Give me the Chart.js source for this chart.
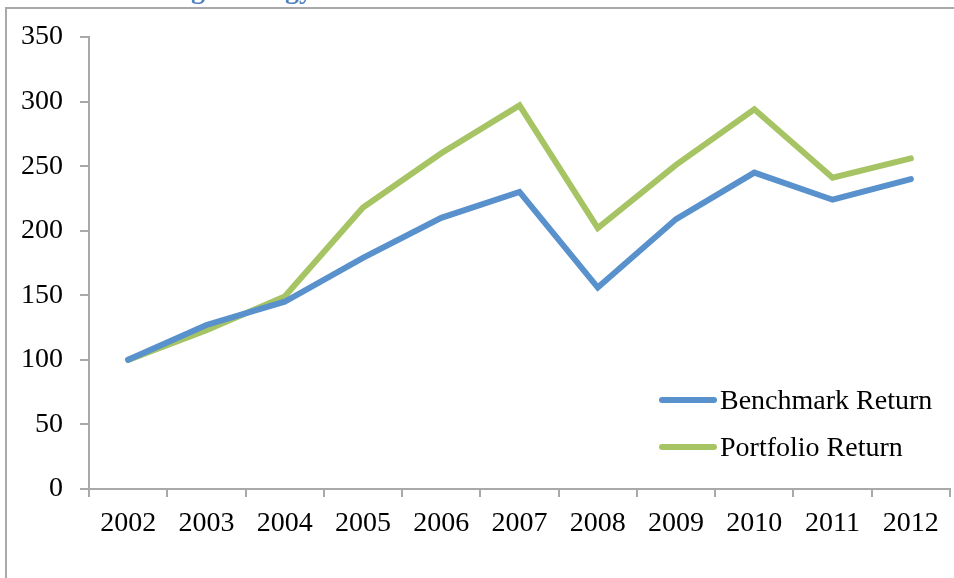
<!DOCTYPE html>
<html>
<head>
<meta charset="utf-8">
<script src="https://cdn.jsdelivr.net/npm/chart.js@4/dist/chart.umd.min.js"></script>
<style>
  html, body { margin: 0; padding: 0; background: #fff; overflow: hidden; }
  #wrap { position: relative; width: 954px; height: 578px; }
  #frame { position: absolute; left: 5px; top: 7px; width: 1200px; height: 1000px;
           border-left: 2px solid #a9a9a9; border-top: 2px solid #a9a9a9; box-sizing: border-box; }
  canvas { position: absolute; left: 0; top: 0; }
</style>
</head>
<body>
<div id="wrap">
  <div id="frame"></div>
  <canvas id="c" width="954" height="578"></canvas>
</div>
<script>
const titleText = "Trading Strategy";
const years = ["2002","2003","2004","2005","2006","2007","2008","2009","2010","2011","2012"];
const benchmarkReturn = [100, 127, 145, 179, 210, 230, 156, 209, 245, 224, 240];
const portfolioReturn = [100, 123, 149, 218, 260, 297, 202, 251, 294, 241, 256];
const seriesNames = ["Benchmark Return", "Portfolio Return"];
const seriesColors = ["#5891cc", "#a6c463"];

const FONT = "'Liberation Serif', 'Times New Roman', serif";
const AXIS = "#a9a9a9";

const overlay = {
  id: 'overlay',
  afterDraw(chart) {
    const ctx = chart.ctx;
    ctx.save();
    // cut-off title (only the lowest part shows above the frame)
    ctx.font = "bold 28px " + FONT;
    ctx.fillStyle = "#4f81bd";
    ctx.textAlign = "right";
    ctx.textBaseline = "alphabetic";
    ctx.fillText(titleText, 313, -2);
    // legend
    const ys = [400, 447];
    chart.data.datasets.forEach((ds, i) => {
      ctx.strokeStyle = ds.borderColor;
      ctx.lineWidth = 6;
      ctx.lineCap = "round";
      ctx.beginPath();
      ctx.moveTo(662, ys[i]);
      ctx.lineTo(714, ys[i]);
      ctx.stroke();
      ctx.font = "28px " + FONT;
      ctx.fillStyle = "#000";
      ctx.textAlign = "left";
      ctx.textBaseline = "middle";
      ctx.fillText(ds.label, 720, ys[i] + 2);
    });
    ctx.restore();
  }
};

new Chart(document.getElementById('c'), {
  type: 'line',
  data: {
    labels: years,
    datasets: [
      { label: seriesNames[0], data: benchmarkReturn, borderColor: seriesColors[0] },
      { label: seriesNames[1], data: portfolioReturn, borderColor: seriesColors[1] }
    ].map(d => Object.assign(d, {
      borderWidth: 6, pointRadius: 0, pointHoverRadius: 0, tension: 0,
      fill: false, borderCapStyle: 'round', borderJoinStyle: 'miter'
    }))
  },
  options: {
    responsive: false,
    animation: false,
    events: [],
    layout: { padding: { left: 0, top: 37, right: 4, bottom: 0 } },
    plugins: { legend: { display: false }, tooltip: { enabled: false }, title: { display: false } },
    scales: {
      x: {
        offset: true,
        grid: { offset: true, drawOnChartArea: false, drawTicks: true, tickLength: 8, color: AXIS, lineWidth: 2 },
        border: { color: AXIS, width: 2 },
        ticks: { color: "#000", font: { family: FONT, size: 28 }, padding: 10, maxRotation: 0, autoSkip: false },
        afterFit(scale) { scale.height = 89; }
      },
      y: {
        min: 0, max: 350,
        grid: { drawOnChartArea: false, drawTicks: true, tickLength: 9, color: AXIS, lineWidth: 2 },
        border: { color: AXIS, width: 2 },
        ticks: { stepSize: 50, color: "#000", font: { family: FONT, size: 28 }, padding: 17 },
        afterFit(scale) { scale.width = 89; }
      }
    }
  },
  plugins: [overlay]
});
</script>
</body>
</html>
